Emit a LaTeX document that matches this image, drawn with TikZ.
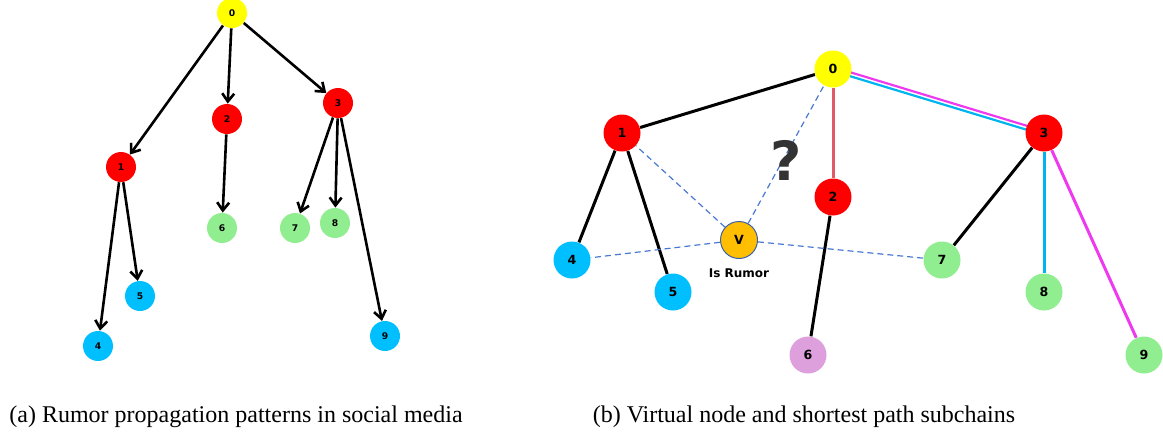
\documentclass[tikz,border=0pt]{standalone}
\usepackage{fontspec}
\setmainfont{Liberation Serif}
\newfontfamily\plotfont{DejaVu Sans}
\usepackage{xcolor}
\usetikzlibrary{arrows.meta,backgrounds,positioning}
\definecolor{nodeyellow}{HTML}{FFFF00}
\definecolor{nodered}{HTML}{FF0000}
\definecolor{nodeblue}{HTML}{00BFFF}
\definecolor{nodegreen}{HTML}{90EE90}
\definecolor{nodeplum}{HTML}{DDA0DD}
\definecolor{nodeorange}{HTML}{FFBF00}
\definecolor{pathpink}{HTML}{EE3AEE}
\definecolor{pathcyan}{HTML}{00B4EF}
\definecolor{pathred}{HTML}{E05A68}
\definecolor{dashblue}{HTML}{4A78D0}
\definecolor{qgray}{HTML}{333333}
\tikzset{
  vtx/.style={circle, inner sep=0pt, text=black},
  treenode/.style={vtx, minimum size=15pt, font=\plotfont\bfseries\fontsize{4.6}{5}\selectfont},
  graphnode/.style={vtx, minimum size=18.5pt, font=\plotfont\bfseries\fontsize{6.3}{7}\selectfont},
  spread/.style={draw=black, line width=1.3pt, -{Straight Barb[length=4pt,width=6pt]}},
  link/.style={draw=black, line width=1.5pt},
  virtual/.style={draw=dashblue, line width=0.6pt, dash pattern=on 3pt off 2pt},
  caption/.style={font=\fontsize{12}{14}\selectfont},
}

\begin{document}
\begin{tikzpicture}[x=0.5pt, y=-0.5pt]
\useasboundingbox (0,0) rectangle (1163,436);

%% (a) propagation tree
\node[treenode, fill=nodeyellow] (t0) at (232,13)  {0};
\node[treenode, fill=nodered]    (t1) at (121,167) {1};
\node[treenode, fill=nodered]    (t2) at (227,119) {2};
\node[treenode, fill=nodered]    (t3) at (338,103) {3};
\node[treenode, fill=nodeblue]   (t4) at (98,346)  {4};
\node[treenode, fill=nodeblue]   (t5) at (140,296) {5};
\node[treenode, fill=nodegreen]  (t6) at (222,228) {6};
\node[treenode, fill=nodegreen]  (t7) at (295,228) {7};
\node[treenode, fill=nodegreen]  (t8) at (335,223) {8};
\node[treenode, fill=nodeblue]   (t9) at (385,336) {9};
\foreach \a/\b in {t0/t1,t0/t2,t0/t3,t1/t4,t1/t5,t2/t6,t3/t7,t3/t8,t3/t9}{
  \draw[spread] (\a) -- (\b);
}

%% (b) virtual node graph
\node[graphnode, fill=nodeyellow] (g0) at (833,69)   {0};
\node[graphnode, fill=nodered]    (g1) at (622,133)  {1};
\node[graphnode, fill=nodered]    (g2) at (833,197)  {2};
\node[graphnode, fill=nodered]    (g3) at (1044,133) {3};
\node[graphnode, fill=nodeblue]   (g4) at (572,260)  {4};
\node[graphnode, fill=nodeblue]   (g5) at (673,292)  {5};
\node[graphnode, fill=nodeplum]   (g6) at (808,355)  {6};
\node[graphnode, fill=nodegreen]  (g7) at (942,260)  {7};
\node[graphnode, fill=nodegreen]  (g8) at (1044,292) {8};
\node[graphnode, fill=nodegreen]  (g9) at (1144,355) {9};
\node[graphnode, fill=nodeorange, draw=dashblue!80!black, line width=0.5pt] (gv) at (739,240) {V};
\node[font=\plotfont\bfseries\fontsize{6}{7}\selectfont] (isrumor) at (739,273) {Is Rumor};
\node[font=\plotfont\bfseries\fontsize{27}{30}\selectfont, text=qgray] (qmark) at (786,160) {?};

\begin{scope}[on background layer]
% tree edges
\foreach \a/\b in {g0/g1,g1/g4,g1/g5,g2/g6,g3/g7}{
  \draw[link] (\a) -- (\b);
}
\draw[link, draw=pathred] (g0) -- (g2);
% shortest path subchains
\draw[link, draw=pathpink, line width=1.1pt] ([yshift=1pt]g0.center) -- ([yshift=1pt]g3.center);
\draw[link, draw=pathcyan, line width=1.1pt] ([yshift=-1pt]g0.center) -- ([yshift=-1pt]g3.center);
\draw[link, draw=pathcyan] (g3) -- (g8);
\draw[link, draw=pathpink] (g3) -- (g9);
% virtual links
\foreach \b in {g0,g1,g4,g7}{
  \draw[virtual] (gv) -- (\b);
}
\end{scope}

%% captions
\node[caption] (capa) at (236,417) {(a) Rumor propagation patterns in social media};
\node[caption] (capb) at (804,417) {(b) Virtual node and shortest path subchains};

\end{tikzpicture}
\end{document}
